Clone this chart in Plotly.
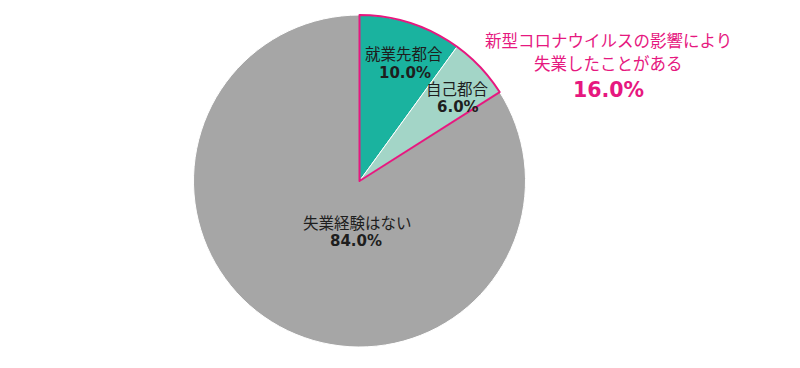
import plotly.graph_objects as go

labels = ["就業先都合", "自己都合", "失業経験はない"]
values = [10.0, 6.0, 84.0]
colors = ["#1AB39F", "#A3D5C7", "#A6A6A6"]
callout_lines = ["新型コロナウイルスの影響により", "失業したことがある"]

W, H = 800, 368
OFF = 8  # page body margin
cx, cy, r = 359.5 - OFF, 181 - OFF, 166
dom_x = [(cx - r) / W, (cx + r) / W]
dom_y = [(H - cy - r) / H, (H - cy + r) / H]

fig = go.Figure()
fig.add_trace(go.Pie(
    labels=labels, values=values, sort=False, direction="clockwise", rotation=0,
    marker=dict(colors=colors, line=dict(color="white", width=1)),
    textinfo="none", hoverinfo="label+percent", showlegend=False,
    domain=dict(x=dom_x, y=dom_y),
))
covid = values[0] + values[1]
fig.add_trace(go.Pie(
    labels=["covid", "none"], values=[covid, 100 - covid], sort=False,
    direction="clockwise", rotation=0,
    marker=dict(colors=["rgba(0,0,0,0)", "rgba(0,0,0,0)"],
                line=dict(color=["#E6187F", "rgba(0,0,0,0)"], width=[2, 0])),
    textinfo="none", hoverinfo="skip", showlegend=False,
    domain=dict(x=dom_x, y=dom_y),
))

jfont = "Noto Sans CJK JP, Meiryo, sans-serif"
nfont = "DejaVu Sans, Verdana, sans-serif"


def px2paper(px, py):
    return (px - OFF) / W, 1 - (py - OFF) / H


label_pos = [(404, 52.5), (457, 88), (357, 222.5)]
pct_pos = [(405, 72.5), (458, 106.5), (356, 241)]
for lab, v, (lx, ly), (qx, qy) in zip(labels, values, label_pos, pct_pos):
    x, y = px2paper(lx, ly)
    fig.add_annotation(x=x, y=y, xref="paper", yref="paper", text=lab,
                       showarrow=False, font=dict(family=jfont, size=15.5, color="#1E1E1E"),
                       xanchor="center", yanchor="middle")
    x, y = px2paper(qx, qy)
    fig.add_annotation(x=x, y=y, xref="paper", yref="paper", text=f"<b>{v:.1f}%</b>",
                       showarrow=False, font=dict(family=nfont, size=15, color="#1E1E1E"),
                       xanchor="center", yanchor="middle")

for i, line in enumerate(callout_lines):
    x, y = px2paper(608, 40 + 23 * i)
    fig.add_annotation(x=x, y=y, xref="paper", yref="paper", text=line,
                       showarrow=False, font=dict(family=jfont, size=16.5, color="#E6187F"),
                       xanchor="center", yanchor="middle")
x, y = px2paper(608, 90)
fig.add_annotation(x=x, y=y, xref="paper", yref="paper", text=f"<b>{covid:.1f}%</b>",
                   showarrow=False, font=dict(family=nfont, size=20.5, color="#E6187F"),
                   xanchor="center", yanchor="middle")

fig.update_layout(width=W, height=H, margin=dict(l=0, r=0, t=0, b=0),
                  paper_bgcolor="white", plot_bgcolor="white")
fig.write_html("out.html")
